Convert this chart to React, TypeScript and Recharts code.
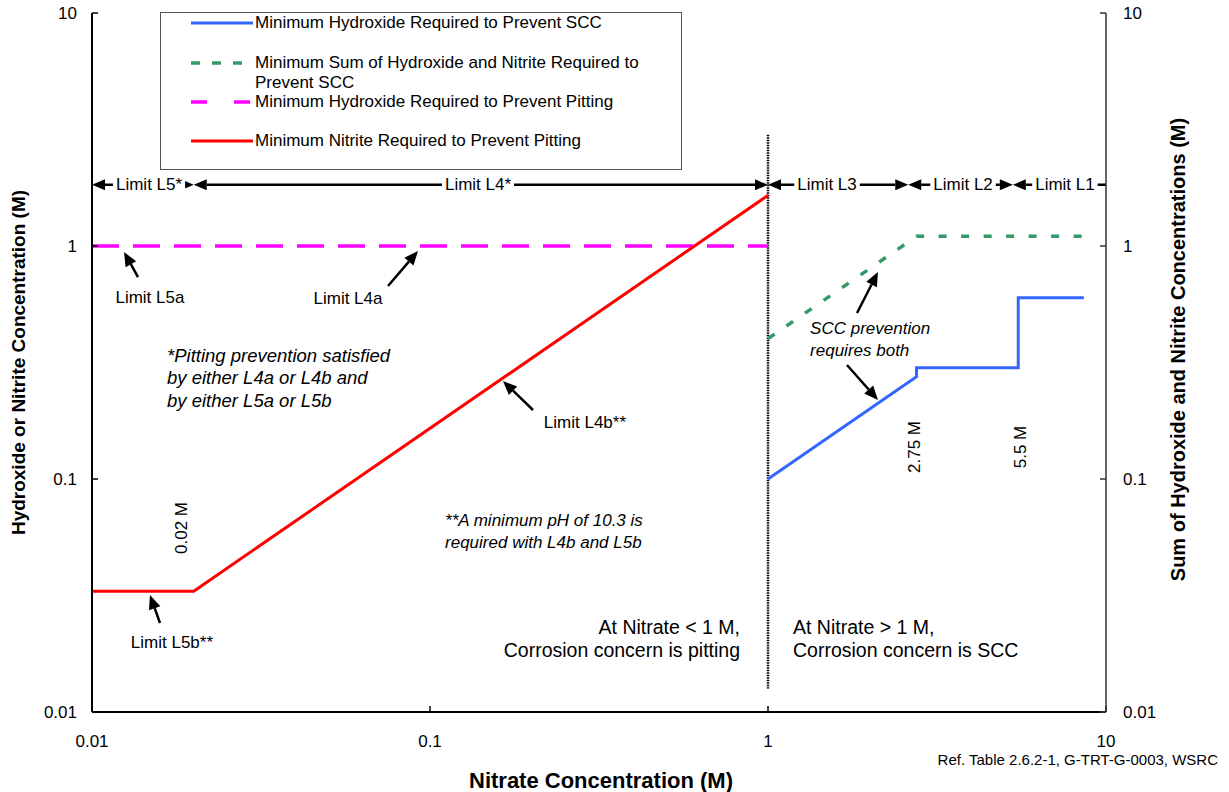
import React from 'react';
import {
  ComposedChart,
  Line,
  XAxis,
  YAxis,
  ReferenceLine,
  ReferenceDot,
  Legend,
  Label,
} from 'recharts';

const FONT = '"Liberation Sans", Arial, Helvetica, sans-serif';
const W = 1229;
const H = 792;

// minimum nitrite to prevent pitting (nitrate < 1 M)
const pitNitriteX = [0.01, 0.02, 1];
const pitNitriteY = [0.033, 0.033, 1.65];
// minimum hydroxide to prevent pitting
const pitHydroxideX = [0.01, 1];
const pitHydroxideY = [1, 1];
// minimum hydroxide to prevent SCC (nitrate > 1 M)
const sccHydroxideX = [1, 2.75, 2.75, 5.5, 5.5, 8.6];
const sccHydroxideY = [0.1, 0.275, 0.3, 0.3, 0.6, 0.6];
// minimum hydroxide + nitrite to prevent SCC
const sccSumX = [1, 2.75, 8.6];
const sccSumY = [0.4, 1.1, 1.1];

const decadeTicks = [0.01, 0.1, 1, 10];

// limit bands along the top
const limitNames = ['Limit L5*', 'Limit L4*', 'Limit L3', 'Limit L2', 'Limit L1'];
const limitBounds = [0.01, 0.02, 1, 2.6, 5.3, 10];
const limitLabelX = [0.01475, 0.1387, 1.495, 3.776, 7.56];
const limitHeads = ['both', 'both', 'both', 'both', 'start'];
const limitLevel = 1.83;

// pointer arrows: tail -> tip, in (nitrate, conc)
const pointerFrom = [
  [0.01368, 0.736],
  [0.07511, 0.6734],
  [0.2017, 0.1978],
  [0.01589, 0.0241],
  [1.834, 0.516],
  [1.7128, 0.3085],
];
const pointerTo = [
  [0.01244, 0.9424],
  [0.09215, 0.9518],
  [0.1644, 0.2634],
  [0.01484, 0.03178],
  [2.115, 0.7734],
  [2.115, 0.2183],
];

type Note = {
  x: number;
  y: number;
  lines: string[];
  anchor: 'start' | 'middle' | 'end';
  size?: number;
  italic?: boolean;
  vertical?: boolean;
};

const notes: Note[] = [
  { x: 0.01484, y: 0.604, lines: ['Limit L5a'], anchor: 'middle' },
  { x: 0.0572, y: 0.598, lines: ['Limit L4a'], anchor: 'middle' },
  { x: 0.2874, y: 0.1756, lines: ['Limit L4b**'], anchor: 'middle' },
  { x: 0.01724, y: 0.01978, lines: ['Limit L5b**'], anchor: 'middle' },
  { x: 1.332, y: 0.4446, lines: ['SCC prevention', 'requires both'], anchor: 'start', italic: true },
  {
    x: 0.01667,
    y: 0.3405,
    lines: ['*Pitting prevention satisfied', 'by either L4a or L4b and', 'by either L5a or L5b'],
    anchor: 'start',
    size: 18.5,
    italic: true,
  },
  {
    x: 0.1108,
    y: 0.06668,
    lines: ['**A minimum pH of 10.3 is', 'required with L4b and L5b'],
    anchor: 'start',
    italic: true,
  },
  {
    x: 0.8264,
    y: 0.02316,
    lines: ['At Nitrate < 1 M,', 'Corrosion concern is pitting'],
    anchor: 'end',
    size: 19.5,
  },
  {
    x: 1.186,
    y: 0.02316,
    lines: ['At Nitrate > 1 M,', 'Corrosion concern is SCC'],
    anchor: 'start',
    size: 19.5,
  },
  { x: 0.01834, y: 0.06164, lines: ['0.02 M'], anchor: 'middle', vertical: true },
  { x: 2.704, y: 0.1372, lines: ['2.75 M'], anchor: 'middle', vertical: true },
  { x: 5.604, y: 0.1372, lines: ['5.5 M'], anchor: 'middle', vertical: true },
];

const zip = (xs: number[], ys: number[]) => xs.map((x, i) => ({ x, y: ys[i] }));

const series = [
  {
    key: 'sccOh',
    name: ['Minimum Hydroxide Required to Prevent SCC'],
    data: zip(sccHydroxideX, sccHydroxideY),
    color: '#3366FF',
    width: 3,
    dash: undefined as string | undefined,
    legendDash: undefined as string | undefined,
    axis: 'left',
  },
  {
    key: 'sccSum',
    name: ['Minimum Sum of Hydroxide and Nitrite Required to', 'Prevent SCC'],
    data: zip(sccSumX, sccSumY),
    color: '#339966',
    width: 3.5,
    dash: '8 14.5',
    legendDash: '9 12',
    axis: 'right',
  },
  {
    key: 'pitOh',
    name: ['Minimum Hydroxide Required to Prevent Pitting'],
    data: zip(pitHydroxideX, pitHydroxideY),
    color: '#FF00FF',
    width: 3.5,
    dash: '27 14',
    legendDash: '16 27',
    axis: 'left',
  },
  {
    key: 'pitNo2',
    name: ['Minimum Nitrite Required to Prevent Pitting'],
    data: zip(pitNitriteX, pitNitriteY),
    color: '#FF0000',
    width: 3,
    dash: undefined,
    legendDash: undefined,
    axis: 'left',
  },
];

const legendRowY = [10, 50, 89, 128];

let measureCtx: CanvasRenderingContext2D | null = null;
const textWidth = (s: string, font: string) => {
  if (!measureCtx) measureCtx = document.createElement('canvas').getContext('2d');
  if (!measureCtx) return s.length * 8.5;
  measureCtx.font = font;
  return measureCtx.measureText(s).width;
};

const fmt = (v: number) => String(v);

// arrowhead with its tip at (x2, y2)
const head = (x1: number, y1: number, x2: number, y2: number, len: number, half: number) => {
  const a = Math.atan2(y2 - y1, x2 - x1);
  const bx = x2 - len * Math.cos(a);
  const by = y2 - len * Math.sin(a);
  const px = -Math.sin(a) * half;
  const py = Math.cos(a) * half;
  return { bx, by, pts: `${x2},${y2} ${bx + px},${by + py} ${bx - px},${by - py}` };
};

const pointerShape = (p: any) => {
  const { x1, y1, x2, y2 } = p;
  const h = head(x1, y1, x2, y2, 14, 6);
  return (
    <g>
      <line x1={x1} y1={y1} x2={h.bx} y2={h.by} stroke="#000" strokeWidth={2.5} />
      <polygon points={h.pts} fill="#000" />
    </g>
  );
};

const limitShape = (heads: string) => (p: any) => {
  const { x1, y1, x2, y2 } = p;
  const start = heads === 'both' || heads === 'start';
  const end = heads === 'both' || heads === 'end';
  const hs = head(x2, y2, x1, y1, 13, 5.5);
  const he = head(x1, y1, x2, y2, 13, 5.5);
  return (
    <g>
      <line
        x1={start ? hs.bx : x1}
        y1={y1}
        x2={end ? he.bx : x2}
        y2={y2}
        stroke="#000"
        strokeWidth={2.5}
      />
      {start && <polygon points={hs.pts} fill="#000" />}
      {end && <polygon points={he.pts} fill="#000" />}
    </g>
  );
};

const limitLabel = (name: string) => (p: any) => {
  const font = `17px ${FONT}`;
  const w = textWidth(name, font);
  return (
    <g>
      <rect x={p.cx - w / 2 - 3} y={p.cy - 10} width={w + 6} height={20} fill="#fff" />
      <text
        x={p.cx}
        y={p.cy}
        textAnchor="middle"
        dominantBaseline="central"
        fontFamily={FONT}
        fontSize={17}
        fill="#000"
      >
        {name}
      </text>
    </g>
  );
};

const noteShape = (n: Note) => (p: any) => {
  const lh = 22.5;
  return (
    <g>
      {n.lines.map((s, i) => (
        <text
          key={i}
          x={p.cx}
          y={p.cy + i * lh}
          textAnchor={n.anchor}
          dominantBaseline="central"
          fontFamily={FONT}
          fontSize={n.size || 17}
          fontStyle={n.italic ? 'italic' : 'normal'}
          fill="#000"
          transform={n.vertical ? `rotate(-90 ${p.cx} ${p.cy})` : undefined}
        >
          {s}
        </text>
      ))}
    </g>
  );
};

const renderLegend = () => (
  <div
    style={{
      position: 'relative',
      width: '100%',
      height: '100%',
      boxSizing: 'border-box',
      border: '1.5px solid #555',
      background: '#fff',
      fontFamily: FONT,
      fontSize: 17,
      color: '#000',
    }}
  >
    {series.map((s, i) => (
      <div key={s.key} style={{ position: 'absolute', left: 30, top: legendRowY[i] - 10 }}>
        <svg width={62} height={20} style={{ position: 'absolute', left: 0, top: 0 }}>
          <line
            x1={0}
            y1={10}
            x2={62}
            y2={10}
            stroke={s.color}
            strokeWidth={s.width}
            strokeDasharray={s.legendDash}
          />
        </svg>
        <div style={{ position: 'absolute', left: 64, top: 0, whiteSpace: 'nowrap', lineHeight: '20px' }}>
          {s.name.map((t, j) => (
            <div key={j}>{t}</div>
          ))}
        </div>
      </div>
    ))}
  </div>
);

const leftTitle = (p: any) => {
  const vb = p.viewBox || { x: 0, y: 13, width: 92, height: 699 };
  const cx = vb.x + 18;
  const cy = vb.y + vb.height / 2;
  return (
    <text
      x={cx}
      y={cy}
      transform={`rotate(-90 ${cx} ${cy})`}
      textAnchor="middle"
      dominantBaseline="central"
      fontFamily={FONT}
      fontSize={19}
      fontWeight="bold"
      fill="#000"
    >
      Hydroxide or Nitrite Concentration (M)
    </text>
  );
};

const rightTitle = (p: any) => {
  const vb = p.viewBox || { x: 1106, y: 13, width: 123, height: 699 };
  const cx = vb.x + 72;
  const cy = vb.y + vb.height / 2 - 13;
  return (
    <text
      x={cx}
      y={cy}
      transform={`rotate(-90 ${cx} ${cy})`}
      textAnchor="middle"
      dominantBaseline="central"
      fontFamily={FONT}
      fontSize={20}
      fontWeight="bold"
      fill="#000"
    >
      Sum of Hydroxide and Nitrite Concentrations (M)
    </text>
  );
};

const bottomTitle = (p: any) => {
  const vb = p.viewBox || { x: 92, y: 712, width: 1014, height: 80 };
  return (
    <g>
      <text
        x={vb.x + vb.width / 2 + 2}
        y={vb.y + 76}
        textAnchor="middle"
        fontFamily={FONT}
        fontSize={22}
        fontWeight="bold"
        fill="#000"
      >
        Nitrate Concentration (M)
      </text>
      <text x={vb.x + vb.width + 112} y={vb.y + 53} textAnchor="end" fontFamily={FONT} fontSize={15} fill="#000">
        Ref. Table 2.6.2-1, G-TRT-G-0003, WSRC
      </text>
    </g>
  );
};

const tickStyle = { fontSize: 17, fill: '#000', fontFamily: FONT };

export default function App() {
  return (
    <div style={{ position: 'absolute', left: 0, top: 0, width: W, height: H, background: '#fff' }}>
      <ComposedChart width={W} height={H} margin={{ top: 13, right: 0, bottom: 0, left: 0 }}>
        <XAxis
          dataKey="x"
          type="number"
          scale="log"
          domain={[0.01, 10]}
          ticks={decadeTicks}
          interval={0}
          allowDataOverflow
          height={80}
          tickSize={-6}
          tickMargin={29}
          tickFormatter={fmt}
          axisLine={{ stroke: '#000', strokeWidth: 2 }}
          tickLine={{ stroke: '#000', strokeWidth: 1.5 }}
          tick={tickStyle}
        >
          <Label content={bottomTitle} />
        </XAxis>
        <YAxis
          yAxisId="left"
          type="number"
          scale="log"
          domain={[0.01, 10]}
          ticks={decadeTicks}
          interval={0}
          allowDataOverflow
          width={92}
          tickSize={-6}
          tickMargin={21}
          tickFormatter={fmt}
          axisLine={{ stroke: '#000', strokeWidth: 2 }}
          tickLine={{ stroke: '#000', strokeWidth: 1.5 }}
          tick={tickStyle}
        >
          <Label content={leftTitle} />
        </YAxis>
        <YAxis
          yAxisId="right"
          orientation="right"
          type="number"
          scale="log"
          domain={[0.01, 10]}
          ticks={decadeTicks}
          interval={0}
          allowDataOverflow
          width={123}
          tickSize={-6}
          tickMargin={23}
          tickFormatter={fmt}
          axisLine={{ stroke: '#333', strokeWidth: 1.5 }}
          tickLine={{ stroke: '#333', strokeWidth: 1.5 }}
          tick={tickStyle}
        >
          <Label content={rightTitle} />
        </YAxis>

        <Legend
          layout="vertical"
          align="center"
          verticalAlign="middle"
          wrapperStyle={{ left: 160, top: 12, width: 522, height: 158 }}
          content={renderLegend}
        />

        {/* divider between pitting and SCC regimes */}
        <ReferenceLine
          yAxisId="left"
          segment={[
            { x: 1, y: 3.0 },
            { x: 1, y: 0.0126 },
          ]}
          stroke="#000"
          strokeWidth={2.5}
          strokeDasharray="1.5 1"
        />

        {series.map((s) => (
          <Line
            key={s.key}
            yAxisId={s.axis}
            data={s.data}
            dataKey="y"
            name={s.name.join(' ')}
            type="linear"
            stroke={s.color}
            strokeWidth={s.width}
            strokeDasharray={s.dash}
            dot={false}
            activeDot={false}
            isAnimationActive={false}
          />
        ))}

        {limitNames.map((name, i) => (
          <ReferenceLine
            key={`band-${name}`}
            yAxisId="left"
            segment={[
              { x: limitBounds[i], y: limitLevel },
              { x: limitBounds[i + 1], y: limitLevel },
            ]}
            shape={limitShape(limitHeads[i])}
          />
        ))}
        {limitNames.map((name, i) => (
          <ReferenceDot
            key={`band-label-${name}`}
            yAxisId="left"
            x={limitLabelX[i]}
            y={limitLevel}
            r={1}
            shape={limitLabel(name)}
          />
        ))}

        {pointerFrom.map((from, i) => (
          <ReferenceLine
            key={`ptr-${i}`}
            yAxisId="left"
            segment={[
              { x: from[0], y: from[1] },
              { x: pointerTo[i][0], y: pointerTo[i][1] },
            ]}
            shape={pointerShape}
          />
        ))}

        {notes.map((n, i) => (
          <ReferenceDot key={`note-${i}`} yAxisId="left" x={n.x} y={n.y} r={1} shape={noteShape(n)} />
        ))}
      </ComposedChart>
    </div>
  );
}
